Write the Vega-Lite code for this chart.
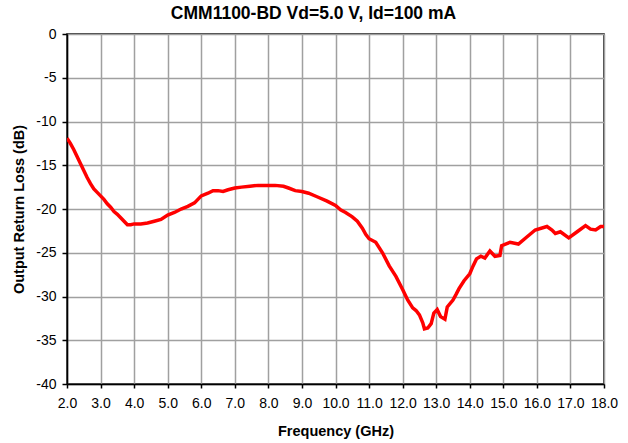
{
  "$schema": "https://vega.github.io/schema/vega-lite/v6.json",
  "autosize": {"type": "none"},
  "width": 537,
  "height": 350,
  "padding": {"left": 67, "top": 34, "right": 24, "bottom": 59},
  "background": "white",
  "title": {"text": "CMM1100-BD Vd=5.0 V, Id=100 mA", "font": "Liberation Sans", "fontSize": 17.5, "fontWeight": "bold", "color": "black", "offset": 5, "anchor": "middle", "dx": -22},
  "config": {
    "view": {"stroke": "black", "strokeWidth": 1.5},
    "axis": {"labelFont": "Liberation Sans", "labelFontSize": 14, "labelColor": "black", "titleFont": "Liberation Sans", "titleFontSize": 14.5, "titleFontWeight": "bold", "titleColor": "black", "domainColor": "black", "domainWidth": 1.5, "tickColor": "black", "tickWidth": 1.5, "gridColor": "#a0a0a0", "gridWidth": 1.5, "gridOpacity": 1}
  },
  "data": {"values": [
    {"f": 2.0, "rl": -11.9}, {"f": 2.1, "rl": -12.5}, {"f": 2.2, "rl": -13.2}, {"f": 2.3, "rl": -14.0},
    {"f": 2.4, "rl": -14.8}, {"f": 2.5, "rl": -15.6}, {"f": 2.6, "rl": -16.4}, {"f": 2.7, "rl": -17.1},
    {"f": 2.8, "rl": -17.7}, {"f": 2.9, "rl": -18.1}, {"f": 3.0, "rl": -18.5}, {"f": 3.1, "rl": -18.9},
    {"f": 3.2, "rl": -19.4}, {"f": 3.3, "rl": -19.8}, {"f": 3.4, "rl": -20.3}, {"f": 3.5, "rl": -20.6},
    {"f": 3.6, "rl": -21.0}, {"f": 3.7, "rl": -21.4}, {"f": 3.8, "rl": -21.8}, {"f": 3.9, "rl": -21.8},
    {"f": 4.0, "rl": -21.7}, {"f": 4.2, "rl": -21.7}, {"f": 4.4, "rl": -21.6}, {"f": 4.6, "rl": -21.4},
    {"f": 4.8, "rl": -21.2}, {"f": 5.0, "rl": -20.7}, {"f": 5.2, "rl": -20.4}, {"f": 5.4, "rl": -20.0},
    {"f": 5.6, "rl": -19.7}, {"f": 5.8, "rl": -19.3}, {"f": 6.0, "rl": -18.5}, {"f": 6.2, "rl": -18.2},
    {"f": 6.35, "rl": -17.9}, {"f": 6.5, "rl": -17.9}, {"f": 6.65, "rl": -18.0}, {"f": 6.8, "rl": -17.8},
    {"f": 7.0, "rl": -17.6}, {"f": 7.2, "rl": -17.5}, {"f": 7.45, "rl": -17.4}, {"f": 7.7, "rl": -17.3},
    {"f": 8.0, "rl": -17.3}, {"f": 8.2, "rl": -17.3}, {"f": 8.45, "rl": -17.4}, {"f": 8.6, "rl": -17.6},
    {"f": 8.8, "rl": -17.9}, {"f": 9.0, "rl": -18.0}, {"f": 9.2, "rl": -18.2}, {"f": 9.45, "rl": -18.6},
    {"f": 9.75, "rl": -19.1}, {"f": 10.0, "rl": -19.6}, {"f": 10.15, "rl": -20.1}, {"f": 10.3, "rl": -20.4},
    {"f": 10.5, "rl": -20.9}, {"f": 10.65, "rl": -21.4}, {"f": 10.8, "rl": -22.2}, {"f": 10.9, "rl": -22.9},
    {"f": 11.0, "rl": -23.4}, {"f": 11.2, "rl": -23.8}, {"f": 11.4, "rl": -25.0}, {"f": 11.6, "rl": -26.5},
    {"f": 11.8, "rl": -27.7}, {"f": 12.0, "rl": -29.2}, {"f": 12.15, "rl": -30.4}, {"f": 12.3, "rl": -31.3},
    {"f": 12.4, "rl": -31.6}, {"f": 12.5, "rl": -32.1}, {"f": 12.6, "rl": -33.0}, {"f": 12.65, "rl": -33.7},
    {"f": 12.75, "rl": -33.6}, {"f": 12.85, "rl": -33.1}, {"f": 12.93, "rl": -31.9}, {"f": 13.03, "rl": -31.5},
    {"f": 13.13, "rl": -32.3}, {"f": 13.26, "rl": -32.6}, {"f": 13.33, "rl": -31.2}, {"f": 13.5, "rl": -30.4},
    {"f": 13.6, "rl": -29.7}, {"f": 13.68, "rl": -29.1}, {"f": 13.83, "rl": -28.2}, {"f": 14.0, "rl": -27.4},
    {"f": 14.1, "rl": -26.5}, {"f": 14.2, "rl": -25.7}, {"f": 14.33, "rl": -25.4}, {"f": 14.45, "rl": -25.6},
    {"f": 14.6, "rl": -24.8}, {"f": 14.75, "rl": -25.4}, {"f": 14.9, "rl": -25.3}, {"f": 14.95, "rl": -24.2},
    {"f": 15.2, "rl": -23.8}, {"f": 15.45, "rl": -24.0}, {"f": 15.7, "rl": -23.2}, {"f": 15.95, "rl": -22.4},
    {"f": 16.3, "rl": -22.0}, {"f": 16.45, "rl": -22.4}, {"f": 16.55, "rl": -22.8}, {"f": 16.7, "rl": -22.6},
    {"f": 16.95, "rl": -23.3}, {"f": 17.2, "rl": -22.6}, {"f": 17.45, "rl": -21.9}, {"f": 17.6, "rl": -22.3},
    {"f": 17.75, "rl": -22.4}, {"f": 17.9, "rl": -22.0}, {"f": 18.0, "rl": -22.0}
  ]},
  "mark": {"type": "line", "color": "#ff0000", "strokeWidth": 3.5, "clip": true},
  "encoding": {
    "x": {"field": "f", "type": "quantitative", "title": "Frequency (GHz)",
      "scale": {"domain": [2, 18], "nice": false, "zero": false},
      "axis": {"values": [2,3,4,5,6,7,8,9,10,11,12,13,14,15,16,17,18], "format": ".1f", "tickSize": 4, "labelPadding": 8, "titlePadding": 14, "labelFlush": false, "labelOverlap": false}},
    "y": {"field": "rl", "type": "quantitative", "title": "Output Return Loss (dB)",
      "scale": {"domain": [-40, 0], "nice": false},
      "axis": {"values": [-40,-35,-30,-25,-20,-15,-10,-5,0], "labelExpr": "'' + datum.value", "tickSize": 5, "labelPadding": 6, "titlePadding": 9, "labelFlush": false}}
  }
}
